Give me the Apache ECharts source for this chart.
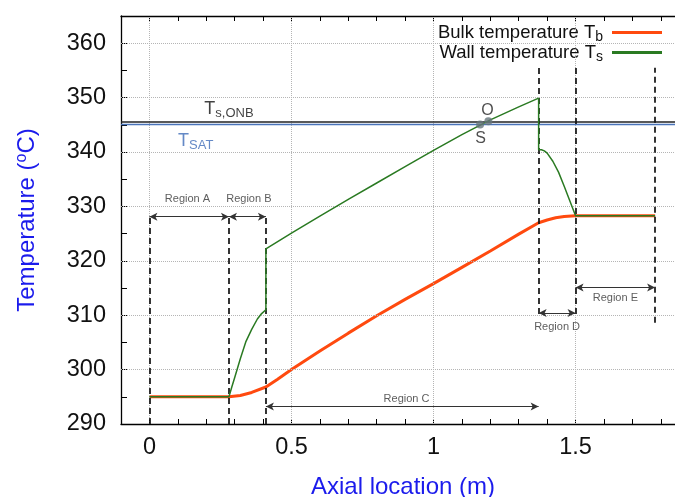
<!DOCTYPE html>
<html>
<head>
<meta charset="utf-8">
<script src="https://cdn.jsdelivr.net/npm/echarts@6/dist/echarts.min.js"></script>
<style>
html,body{margin:0;padding:0;background:#fff;}
#chart{width:675px;height:497px;}
</style>
</head>
<body>
<div id="chart"></div>
<script>
// ---- data ----
const bulkX = [0, 0.28, 0.32, 0.36, 0.41, 0.45, 0.5, 0.6, 0.7, 0.8, 0.9, 1.0, 1.1, 1.2, 1.3, 1.37, 1.4, 1.43, 1.46, 1.5, 1.78];
const bulkT = [295, 295, 295.25, 295.8, 296.8, 298.2, 300.0, 303.4, 306.7, 309.9, 312.9, 315.8, 318.8, 321.8, 324.9, 327.0, 327.5, 327.9, 328.15, 328.3, 328.3];
const wallX = [0, 0.28, 0.29, 0.30, 0.32, 0.34, 0.36, 0.38, 0.395, 0.41, 0.41, 0.5, 0.6, 0.7, 0.8, 0.9, 1.0, 1.1, 1.2, 1.3, 1.37, 1.37, 1.38, 1.39, 1.40, 1.42, 1.44, 1.46, 1.48, 1.5, 1.78];
const wallT = [295, 295, 296.8, 298.5, 302.0, 305.2, 307.4, 309.3, 310.3, 311.0, 322.2, 325.1, 328.2, 331.3, 334.3, 337.3, 340.3, 343.2, 345.9, 348.3, 349.9, 340.4, 340.4, 340.2, 339.8, 338.3, 336.3, 333.7, 331.0, 328.3, 328.3];
const T_ONB = 345.53;
const T_SAT = 345.17;
const pointsSO = [[1.164, 345.04], [1.193, 345.64]];
const xTickLabels = [0, 0.5, 1, 1.5];
const yTickLabels = [290, 300, 310, 320, 330, 340, 350, 360];
// region boundaries: [x, yBottom, yTop]
const regionBounds = [[0, 290, 328.3], [0.28, 290, 328.3], [0.41, 290, 328.3], [1.37, 310.2, 355.5], [1.5, 310.2, 355.5], [1.78, 308.6, 355.5]];
// region arrows: [x1, x2, y]
const regionArrows = [[0, 0.28, 328.1], [0.28, 0.41, 328.1], [0.41, 1.37, 293.2], [1.37, 1.5, 310.4], [1.5, 1.78, 315.1]];
// annotation texts
const regionNames = ['Region A', 'Region B', 'Region C', 'Region D', 'Region E'];
const regionLabelPos = [[0.134, 331.3], [0.35, 331.3], [0.905, 294.6], [1.435, 307.9], [1.64, 313.2]];

const FONT = '"Liberation Sans", Arial, Helvetica, sans-serif';
const BLUE = '#1b1bec';

const bulkData = bulkX.map((x, i) => [x, bulkT[i]]);
const wallData = wallX.map((x, i) => [x, wallT[i]]);

const gridLines = xTickLabels.map(v => ({ xAxis: v })).concat(yTickLabels.filter(v => v > 290).map(v => ({ yAxis: v })));
const boundLines = regionBounds.map(b => [{ coord: [b[0], b[1]] }, { coord: [b[0], b[2]] }]);
const arrowLines = regionArrows.map(a => [{ coord: [a[0], a[2]] }, { coord: [a[1], a[2]] }]);

const textItems = regionNames.map((t, i) => ({
  value: regionLabelPos[i],
  label: { show: true, position: 'inside', formatter: t, fontSize: 11, color: '#333', fontFamily: FONT }
}));
textItems.push({ value: [0.28, 347.9], label: { show: true, position: 'inside', formatter: 'T{sub|s,ONB}', fontSize: 18, color: '#111', fontFamily: FONT, rich: { sub: { fontSize: 13, color: '#111', fontFamily: FONT, padding: [9, 0, 0, 0] } } } });
textItems.push({ value: [0.163, 342.0], label: { show: true, position: 'inside', formatter: 'T{sub|SAT}', fontSize: 18, color: '#3d6cb8', fontFamily: FONT, rich: { sub: { fontSize: 13, color: '#3d6cb8', fontFamily: FONT, padding: [9, 0, 0, 0] } } } });
textItems.push({ value: [1.19, 347.6], label: { show: true, position: 'inside', formatter: 'O', fontSize: 16, color: '#222', fontFamily: FONT } });
textItems.push({ value: [1.166, 342.4], label: { show: true, position: 'inside', formatter: 'S', fontSize: 16, color: '#222', fontFamily: FONT } });

const chart = echarts.init(document.getElementById('chart'), null, { renderer: 'canvas' });

const xAxisCommon = {
  type: 'value', min: -0.1, max: 1.85, interval: 0.1,
  axisLine: { onZero: false, lineStyle: { color: '#000', width: 1.3 } },
  axisTick: { inside: true, length: 5, lineStyle: { color: '#000', width: 1 } },
  splitLine: { show: false }
};

const legendCommon = {
  orient: 'horizontal', align: 'right', right: 13, itemWidth: 50, itemHeight: 3, icon: 'rect', padding: 0,
  selectedMode: false
};

chart.setOption({
  animation: false,
  backgroundColor: '#fff',
  grid: { left: 121, right: 0, top: 16, bottom: 73, outerBoundsMode: 'none', containLabel: false },
  xAxis: [
    Object.assign({}, xAxisCommon, {
      position: 'bottom',
      axisLabel: {
        fontSize: 23.5, color: '#111', fontFamily: FONT, margin: 12,
        formatter: v => { const k = Math.round(v * 10); return (k >= 0 && k <= 15 && k % 5 === 0) ? String(k / 10) : ''; }
      },
      name: 'Axial location (m)', nameLocation: 'middle', nameGap: 51,
      nameTextStyle: { fontSize: 24, color: BLUE, fontFamily: FONT, padding: [0, 0, 0, 10] }
    }),
    Object.assign({}, xAxisCommon, { position: 'top', axisLabel: { show: false } })
  ],
  yAxis: [{
    type: 'value', min: 290, max: 365, interval: 5,
    axisLine: { onZero: false, lineStyle: { color: '#000', width: 1.3 } },
    axisTick: { inside: true, length: 6, lineStyle: { color: '#000', width: 1 } },
    splitLine: { show: false },
    axisLabel: {
      fontSize: 23.5, color: '#111', fontFamily: FONT, margin: 15,
      formatter: v => (yTickLabels.indexOf(v) >= 0 ? String(v) : '')
    },
    name: 'Temperature ({sup|o}C)', nameLocation: 'middle', nameGap: 80, nameRotate: 90,
    nameTextStyle: { fontSize: 24, color: BLUE, fontFamily: FONT,
      rich: { sup: { fontSize: 16, color: BLUE, fontFamily: FONT, padding: [0, 0, 11, 0] } } }
  }],
  legend: [
    Object.assign({}, legendCommon, {
      top: 23, data: ['Tb'],
      formatter: () => 'Bulk temperature T{sub|b}',
      textStyle: { fontSize: 18.5, color: '#111', fontFamily: FONT, padding: [0, 4, 0, 0],
        rich: { sub: { fontSize: 14, color: '#111', fontFamily: FONT, padding: [10, 0, 0, 0] } } }
    }),
    Object.assign({}, legendCommon, {
      top: 43, data: ['Ts'],
      formatter: () => 'Wall temperature T{sub|s}',
      textStyle: { fontSize: 18.5, color: '#111', fontFamily: FONT, padding: [0, 4, 0, 0],
        rich: { sub: { fontSize: 14, color: '#111', fontFamily: FONT, padding: [10, 0, 0, 0] } } }
    })
  ],
  series: [
    {
      name: 'grid', type: 'line', data: [], silent: true, z: 1,
      markLine: { silent: true, symbol: 'none', label: { show: false }, animation: false,
        lineStyle: { type: 'dotted', color: '#b5b5b5', width: 1 }, data: gridLines }
    },
    {
      name: 'sat', type: 'line', data: [], silent: true, z: 2,
      markLine: { silent: true, symbol: 'none', label: { show: false }, animation: false,
        data: [
          { yAxis: T_ONB, lineStyle: { color: '#222', width: 1.6, type: 'solid' } },
          { yAxis: T_SAT, lineStyle: { color: '#4a74ba', width: 1.4, type: 'solid' } }
        ] }
    },
    {
      name: 'bounds', type: 'line', data: [], silent: true, z: 3,
      markLine: { silent: true, symbol: 'none', label: { show: false }, animation: false,
        lineStyle: { type: [6, 4], color: '#111', width: 1.7 }, data: boundLines }
    },
    {
      name: 'arrows', type: 'line', data: [], silent: true, z: 3,
      markLine: { silent: true, symbol: ['arrow', 'arrow'], symbolSize: [6, 8], label: { show: false }, animation: false,
        lineStyle: { type: 'solid', color: '#333', width: 1 }, data: arrowLines }
    },
    {
      name: 'Tb', type: 'line', data: bulkData, showSymbol: false, symbol: 'none', z: 4,
      color: '#ff4a0f', lineStyle: { width: 3, color: '#ff4a0f' }
    },
    {
      name: 'Ts', type: 'line', data: wallData, showSymbol: false, symbol: 'none', z: 5,
      color: '#2a7a22', lineStyle: { width: 1.5, color: '#2a7a22' }
    },
    {
      name: 'SO', type: 'scatter', data: pointsSO, symbolSize: 8, z: 6, silent: true,
      itemStyle: { color: '#66757c' }
    },
    {
      name: 'texts', type: 'scatter', data: textItems, symbolSize: 1, z: 7, silent: true,
      itemStyle: { color: 'rgba(0,0,0,0)' }
    }
  ]
});
</script>
</body>
</html>
